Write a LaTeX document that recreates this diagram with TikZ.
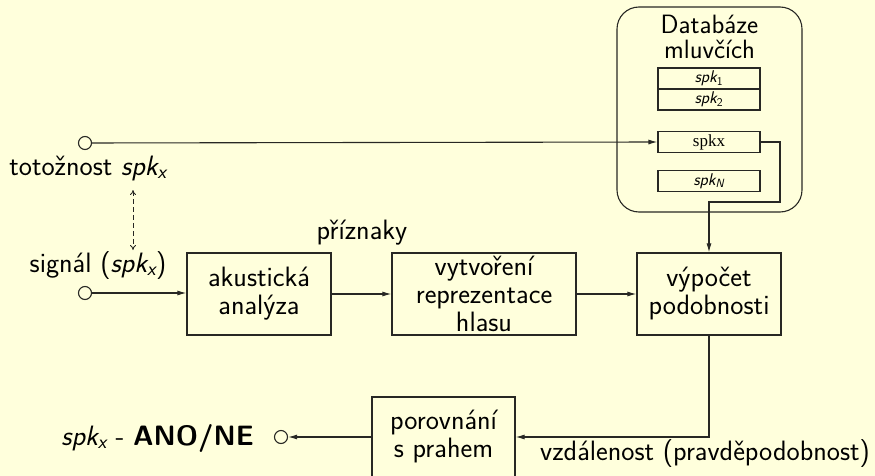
\documentclass[tikz,border=0pt]{standalone}
\usepackage{fontspec}
\newfontfamily\timesf{Liberation Serif}
\usetikzlibrary{arrows.meta}
\renewcommand{\familydefault}{\sfdefault}
\definecolor{bgc}{RGB}{255,255,220}
\definecolor{lnc}{RGB}{40,40,36}
\newcommand{\spkx}{{\itshape spk}\textsubscript{\itshape x}}
\tikzset{
  big/.style={font=\sffamily\fontsize{28}{28}\selectfont, inner sep=0pt},
  title/.style={font=\sffamily\fontsize{26.5}{26}\selectfont, inner sep=0pt},
  box/.style={draw=lnc, line width=1.2pt, align=center, big},
  entry/.style={draw=lnc, line width=1.1pt, minimum width=102pt, minimum height=21pt, inner sep=0pt, font=\sffamily\fontsize{17}{17}\selectfont},
  conn/.style={draw=lnc, line width=1.1pt},
  arr/.style={conn, -{Latex[length=9pt,width=5pt]}},
  port/.style={circle, draw=lnc, line width=1.1pt, minimum size=13pt, inner sep=0pt},
}
\begin{document}
\begin{tikzpicture}[x=1pt,y=-1pt]
\useasboundingbox (0,0) rectangle (875,476);
\fill[bgc] (0,0) rectangle (875,476);
\clip (0,0) rectangle (875,476);
% database
\node[draw=lnc, line width=1.1pt, rounded corners=22pt, minimum width=185pt, minimum height=205pt, inner sep=0pt] (db) at (709.5,109.5) {};
\node[title, anchor=base] (dbt1) at (709.5,34) {Databáze};
\node[title, anchor=base] (dbt2) at (709.5,59) {mluvčích};
\node[entry] (s1) at (709,78.5) {{\itshape spk}\textsubscript{1}};
\node[entry] (s2) at (709,99.5) {{\itshape spk}\textsubscript{2}};
\node[entry, font=\timesf\fontsize{17}{17}\selectfont] (sx) at (709,142) {spkx};
\node[entry] (sN) at (709,181) {{\itshape spk}\textsubscript{\itshape N}};
% blocks
\node[box, minimum width=144pt, minimum height=82pt] (ak) at (259,294) {akustická\\analýza};
\node[box, minimum width=184pt, minimum height=82pt] (vy) at (484,294) {vytvoření\\reprezentace\\hlasu};
\node[box, minimum width=144pt, minimum height=82pt] (vp) at (709,294) {výpočet\\podobnosti};
\node[box, minimum width=143pt, minimum height=80pt] (po) at (443.5,437) {porovnání\\s prahem};
% ports
\node[port] (p1) at (85,143) {};
\node[port] (p2) at (85,293) {};
\node[port] (p3) at (281,437) {};
% labels
\node[big, anchor=base] (l1) at (88,175) {totožnost \spkx};
\node[big, anchor=base] (l2) at (98,272) {signál (\spkx)};
\node[big, anchor=base] (l3) at (362,239) {příznaky};
\node[big, anchor=base west] (l4) at (540,460) {vzdálenost (pravděpodobnost)};
\node[big, anchor=base east] (l5) at (254,445) {\spkx{} - \textbf{ANO/NE}};
% connectors
\coordinate (d1) at (133,190);
\coordinate (d2) at (133,250);
\coordinate (k1) at (780,142);
\coordinate (k2) at (780,202);
\draw[arr] (p1) -- (sx.west);
\draw[arr] (p2) -- (p2 -| ak.west);
\draw[arr] (ak.east) -- (vy.west);
\draw[arr] (vy.east) -- (vp.west);
\draw[arr] (sx.east) -- (k1) -- (k2) -| (vp.north);
\draw[arr] (vp.south) |- (po.east);
\draw[arr] (po.west) -- (p3);
\draw[conn, dashed, dash pattern=on 5pt off 3pt, line width=0.8pt, {To[length=5pt,width=6pt]}-{To[length=5pt,width=6pt]}] (d1) -- (d2);
\end{tikzpicture}
\end{document}
